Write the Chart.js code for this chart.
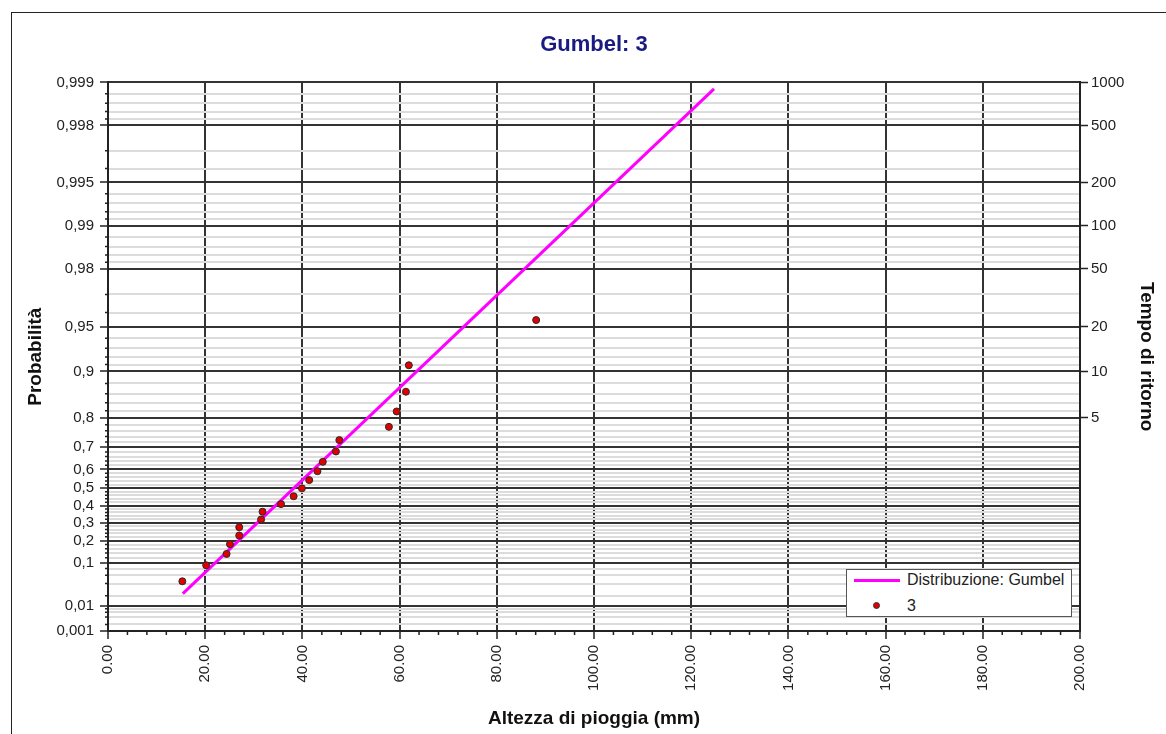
<!DOCTYPE html>
<html>
<head>
<meta charset="utf-8">
<script src="https://cdn.jsdelivr.net/npm/chart.js@4.4.1/dist/chart.umd.min.js"></script>
<style>
  html, body { margin: 0; padding: 0; background: #fff; overflow: hidden; }
  #wrap { position: relative; width: 1166px; height: 734px; }
  #frame { position: absolute; left: 11px; top: 12px; width: 1300px; height: 900px;
           border-left: 1.5px solid #222; border-top: 1.5px solid #222; }
  #grafico { position: absolute; left: 0; top: 0; }
  #legenda { position: absolute; background: #fff; border: 1px solid #555; box-sizing: border-box;
             width: 226px; height: 48px; font: 16px "Liberation Sans", Arial, sans-serif; color: #222; }
  #legenda .voce { position: absolute; left: 0; height: 20px; line-height: 20px; width: 100%; }
  #legenda .testo { position: absolute; left: 60px; top: 0; white-space: nowrap; }
  #legenda .linea { position: absolute; left: 7px; top: 9px; width: 46px; height: 3px; }
  #legenda .punto { position: absolute; left: 26px; top: 6px; width: 7px; height: 7px; border-radius: 50%;
                    box-sizing: border-box; border: 1px solid #333; }
</style>
</head>
<body>
<div id="wrap">
  <div id="frame"></div>
  <canvas id="grafico" width="1166" height="734"></canvas>
  <div id="legenda"></div>
</div>
<script>
// osservazioni: altezza di pioggia (mm) e probabilita di non superamento
const pioggia = [15.3, 20.2, 24.4, 25.1, 27.0, 27.0, 31.5, 31.8, 35.6, 38.2, 39.9,
                 41.4, 43.1, 44.2, 46.9, 47.6, 57.8, 59.4, 61.3, 61.9, 88.1];
const probabilita = [0.045, 0.091, 0.136, 0.182, 0.227, 0.273, 0.318, 0.364, 0.409, 0.455, 0.5,
                     0.545, 0.591, 0.636, 0.682, 0.727, 0.773, 0.818, 0.864, 0.909, 0.955];

// retta della distribuzione di Gumbel (estremi)
const rettaX = [15.4, 124.7];
const rettaP = [0.0227, 0.99889];

// tacche asse probabilita
const tacchePrincipali = [0.001, 0.01, 0.1, 0.2, 0.3, 0.4, 0.5, 0.6, 0.7, 0.8, 0.9,
                          0.95, 0.98, 0.99, 0.995, 0.998, 0.999];
const taccheSecondarie = [0.002, 0.004, 0.006, 0.008, 0.02, 0.04, 0.06, 0.08,
                          0.12, 0.14, 0.16, 0.18, 0.22, 0.24, 0.26, 0.28, 0.32, 0.34, 0.36, 0.38,
                          0.42, 0.44, 0.46, 0.48, 0.52, 0.54, 0.56, 0.58, 0.62, 0.64, 0.66, 0.68,
                          0.72, 0.74, 0.76, 0.78, 0.82, 0.84, 0.86, 0.88, 0.91, 0.92, 0.93, 0.94,
                          0.96, 0.97, 0.982, 0.984, 0.986, 0.988, 0.991, 0.992, 0.993, 0.994,
                          0.996, 0.997, 0.9982, 0.9984, 0.9986, 0.9988];
const tempiRitorno = [5, 10, 20, 50, 100, 200, 500, 1000];
const taccheX = [0, 20, 40, 60, 80, 100, 120, 140, 160, 180, 200];

const FONT = '"Liberation Sans", Arial, sans-serif';
const SCURO = '#333';
const CHIARO = '#dcdcdc';

// variabile ridotta di Gumbel
const ridotta = p => -Math.log(-Math.log(p));

class GumbelScale extends Chart.Scale {
  determineDataLimits() {
    this.min = this.options.min;
    this.max = this.options.max;
  }
  buildTicks() {
    return [];
  }
  configure() {
    super.configure();
    this._zStart = ridotta(this.min);
    this._zRange = ridotta(this.max) - this._zStart;
  }
  getPixelForValue(v) {
    if (v === null || v === undefined || isNaN(v)) return NaN;
    return this.getPixelForDecimal((ridotta(v) - this._zStart) / this._zRange);
  }
  getValueForPixel(px) {
    const z = this._zStart + this.getDecimalForPixel(px) * this._zRange;
    return Math.exp(-Math.exp(-z));
  }
  getLabelForValue(v) {
    return String(v).replace('.', ',');
  }
}
GumbelScale.id = 'gumbel';
GumbelScale.defaults = {};
Chart.register(GumbelScale);

// tacche corte secondarie
const taccheCorte = {
  id: 'taccheCorte',
  afterDraw(chart) {
    const ctx = chart.ctx;
    const a = chart.chartArea;
    const y = chart.scales.y, x = chart.scales.x;
    ctx.save();
    ctx.strokeStyle = '#222';
    ctx.lineWidth = 1.5;
    ctx.beginPath();
    y.ticks.forEach(t => {
      if (!t.major) {
        const py = y.getPixelForValue(t.value);
        ctx.moveTo(a.left - 3, py);
        ctx.lineTo(a.left, py);
      }
    });
    x.ticks.forEach(t => {
      if (!t.major) {
        const px = x.getPixelForValue(t.value);
        ctx.moveTo(px, a.bottom);
        ctx.lineTo(px, a.bottom + 4);
      }
    });
    ctx.stroke();
    ctx.restore();
  }
};

// legenda html dentro l'area del grafico
const legendaHtml = {
  id: 'legendaHtml',
  afterUpdate(chart) {
    const box = document.getElementById('legenda');
    const a = chart.chartArea;
    box.style.left = (a.right - 8 - 226) + 'px';
    box.style.top = (a.bottom - 14 - 48) + 'px';
    box.innerHTML = '';
    chart.data.datasets.forEach((ds, i) => {
      const voce = document.createElement('div');
      voce.className = 'voce';
      voce.style.top = (i === 0 ? 0 : 26) + 'px';
      const segno = document.createElement('span');
      if (ds.showLine === false) {
        segno.className = 'punto';
        segno.style.background = ds.backgroundColor;
      } else {
        segno.className = 'linea';
        segno.style.background = ds.borderColor;
      }
      const testo = document.createElement('span');
      testo.className = 'testo';
      testo.textContent = ds.label;
      voce.appendChild(segno);
      voce.appendChild(testo);
      box.appendChild(voce);
    });
  }
};

const ctx = document.getElementById('grafico');
const grafico = new Chart(ctx, {
  type: 'line',
  data: {
    datasets: [{
      label: 'Distribuzione: Gumbel',
      data: rettaX.map((v, i) => ({x: v, y: rettaP[i]})),
      borderColor: '#ff00ff',
      backgroundColor: '#ff00ff',
      borderWidth: 3,
      pointRadius: 0,
      order: 1
    }, {
      label: '3',
      data: pioggia.map((v, i) => ({x: v, y: probabilita[i]})),
      showLine: false,
      backgroundColor: '#e00000',
      borderColor: '#2a2a2a',
      borderWidth: 1,
      pointRadius: 3.5,
      order: 0
    }]
  },
  options: {
    responsive: false,
    animation: false,
    devicePixelRatio: 1,
    layout: { padding: 0 },
    plugins: {
      legend: { display: false },
      tooltip: { enabled: false },
      title: {
        display: true,
        text: 'Gumbel: 3',
        color: '#1a1a80',
        fullSize: false,
        font: { family: FONT, size: 22, weight: 'bold' },
        padding: { top: 32, bottom: 24 }
      }
    },
    scales: {
      x: {
        type: 'linear',
        position: 'bottom',
        min: 0,
        max: 200,
        afterBuildTicks: (scale) => {
          const t = [];
          for (let v = 0; v <= 200; v += 4) t.push({value: v, major: taccheX.includes(v)});
          scale.ticks = t;
        },
        afterFit: (scale) => { scale.height = 103; },
        ticks: {
          autoSkip: false,
          minRotation: 90,
          maxRotation: 90,
          padding: 6,
          color: '#222',
          font: { family: FONT, size: 15 },
          callback: (v) => taccheX.includes(v) ? v.toFixed(2) : ''
        },
        grid: {
          z: -2,
          color: (c) => c.tick && c.tick.major ? SCURO : 'rgba(0,0,0,0)',
          tickColor: (c) => c.tick && c.tick.major ? '#222' : 'rgba(0,0,0,0)',
          lineWidth: 2,
          tickWidth: 1.5,
          tickLength: 8
        },
        border: { display: true, color: '#222', width: 2 },
        title: {
          display: true,
          text: 'Altezza di pioggia (mm)',
          color: '#111',
          font: { family: FONT, size: 19, weight: 'bold' },
          padding: { top: 0, bottom: 4 }
        }
      },
      y: {
        type: 'gumbel',
        position: 'left',
        min: 0.001,
        max: 0.999,
        afterBuildTicks: (scale) => {
          scale.ticks = tacchePrincipali.map(v => ({value: v, major: true}))
            .concat(taccheSecondarie.map(v => ({value: v, major: false})))
            .sort((a, b) => a.value - b.value);
        },
        afterFit: (scale) => { scale.width = 108; },
        ticks: {
          autoSkip: false,
          padding: 6,
          color: '#222',
          font: { family: FONT, size: 15 },
          callback: (v) => tacchePrincipali.includes(v) ? String(v).replace('.', ',') : ''
        },
        grid: {
          z: -1,
          color: (c) => c.tick && c.tick.major ? SCURO : CHIARO,
          tickColor: (c) => c.tick && c.tick.major ? '#222' : 'rgba(0,0,0,0)',
          lineWidth: 2,
          tickWidth: 1.5,
          tickLength: 8
        },
        border: { display: true, color: '#222', width: 2 },
        title: {
          display: true,
          text: 'Probabilità',
          color: '#111',
          font: { family: FONT, size: 19, weight: 'bold' },
          padding: { top: 24, bottom: 0 }
        }
      },
      tr: {
        type: 'gumbel',
        position: 'right',
        min: 0.001,
        max: 0.999,
        afterBuildTicks: (scale) => {
          scale.ticks = tempiRitorno.map(t => ({value: 1 - 1 / t, major: true}));
        },
        afterFit: (scale) => { scale.width = 86; },
        ticks: {
          autoSkip: false,
          padding: 3,
          color: '#222',
          font: { family: FONT, size: 15 },
          callback: (v) => String(Math.round(1 / (1 - v)))
        },
        grid: {
          drawOnChartArea: false,
          tickColor: '#222',
          tickWidth: 1.5,
          tickLength: 8
        },
        border: { display: true, color: '#222', width: 2 },
        title: {
          display: true,
          text: 'Tempo di ritorno',
          color: '#111',
          font: { family: FONT, size: 19, weight: 'bold' },
          padding: { top: 8, bottom: 0 }
        }
      }
    }
  },
  plugins: [taccheCorte, legendaHtml]
});
</script>
</body>
</html>
